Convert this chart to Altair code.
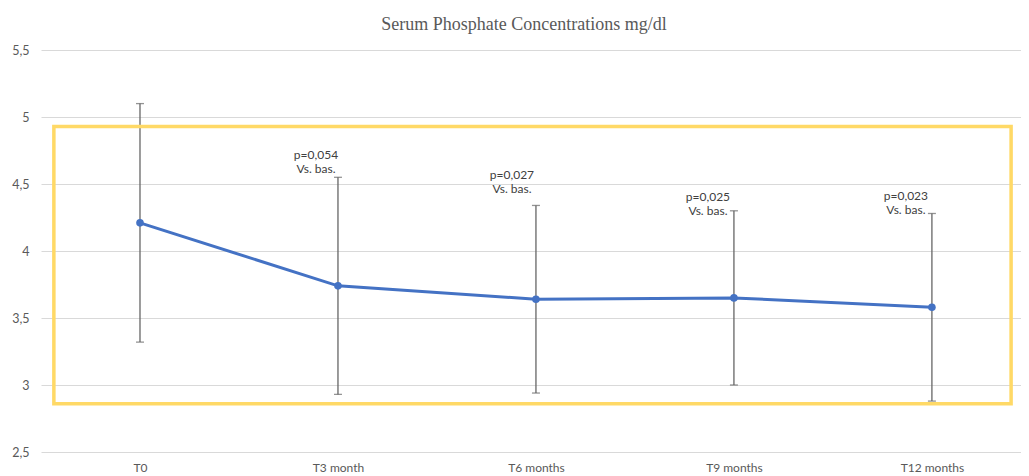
import altair as alt
import pandas as pd

categories = ["T0", "T3 month", "T6 months", "T9 months", "T12 months"]
means = [4.21, 3.74, 3.64, 3.65, 3.58]
errors = [0.89, 0.81, 0.70, 0.65, 0.70]

p_labels = ["", "p=0,054", "p=0,027", "p=0,025", "p=0,023"]
p_label_y = [None, 4.72, 4.57, 4.40, 4.41]
p_label_dx = [0, -22, -24, -26, -26]

box_x = [-0.435, 4.40]
box_y = [2.86, 4.93]

idx = list(range(len(categories)))
df = pd.DataFrame({
    "i": idx,
    "cat": categories,
    "mean": means,
    "lo": [m - e for m, e in zip(means, errors)],
    "hi": [m + e for m, e in zip(means, errors)],
})

ann = pd.DataFrame({
    "i": idx[1:],
    "l1": p_labels[1:],
    "y": p_label_y[1:],
    "dx": p_label_dx[1:],
})

box = pd.DataFrame({"x": [box_x[0]], "x2": [box_x[1]], "y": [box_y[0]], "y2": [box_y[1]]})

FONT = "Lato"
GRAY = "#595959"

label_expr = "[" + ",".join("'" + c + "'" for c in categories) + "][datum.value]"

xscale = alt.Scale(domain=[-0.5, 4.45], nice=False, zero=False)
yscale = alt.Scale(domain=[2.5, 5.5], nice=False, zero=False)

x_enc = alt.X("i:Q", scale=xscale, axis=alt.Axis(
    values=idx, labelExpr=label_expr, title=None, grid=False, domain=False,
    ticks=False, labelPadding=10, labelFont=FONT, labelFontSize=12, labelColor=GRAY))
y_axis = alt.Axis(values=[2.5, 3, 3.5, 4, 4.5, 5, 5.5], title=None, domain=False, ticks=False,
                  labelExpr="replace(format(datum.value, '~r'), '.', ',')",
                  gridColor="#d9d9d9", gridWidth=1, labelPadding=12,
                  labelFont=FONT, labelFontSize=12.5, labelColor=GRAY)

base = alt.Chart(df)

rules = base.mark_rule(color="#666666", strokeWidth=1.3).encode(
    x=x_enc, y=alt.Y("lo:Q", scale=yscale, axis=y_axis), y2="hi:Q")
cap_lo = base.mark_tick(color="#666666", thickness=1.3, size=8, orient="horizontal").encode(
    x="i:Q", y="lo:Q")
cap_hi = base.mark_tick(color="#666666", thickness=1.3, size=8, orient="horizontal").encode(
    x="i:Q", y="hi:Q")
line = base.mark_line(color="#4472C4", strokeWidth=3).encode(x="i:Q", y="mean:Q")
pts = base.mark_point(filled=True, color="#4472C4", size=58, opacity=1).encode(x="i:Q", y="mean:Q")

ann_layers = []
for k in range(len(ann)):
    row = ann.iloc[[k]]
    dxv = int(row["dx"].iloc[0])
    t1 = alt.Chart(row).mark_text(font=FONT, fontSize=12, color="#404040", dx=dxv, baseline="middle").encode(
        x="i:Q", y="y:Q", text="l1:N")
    t2 = alt.Chart(row).mark_text(font=FONT, fontSize=12, color="#404040", dx=dxv, dy=14, baseline="middle").encode(
        x="i:Q", y="y:Q", text=alt.value("Vs. bas."))
    ann_layers += [t1, t2]

rect = alt.Chart(box).mark_rect(fillOpacity=0, stroke="#FFD966", strokeWidth=3.5).encode(
    x="x:Q", x2="x2:Q", y="y:Q", y2="y2:Q")

chart = alt.layer(rules, cap_lo, cap_hi, line, pts, *ann_layers, rect).properties(
    width=980, height=402,
    title=alt.TitleParams("Serum Phosphate Concentrations mg/dl", font="Liberation Serif", fontSize=18,
                          fontWeight="normal", color=GRAY, anchor="middle", dx=-7, offset=10),
    padding={"left": 33, "top": 42, "right": 0, "bottom": 22},
    autosize=alt.AutoSizeParams(type="none"),
).configure_view(stroke=None)

chart.save("out.html", embed_options={"renderer": "svg", "actions": False})
